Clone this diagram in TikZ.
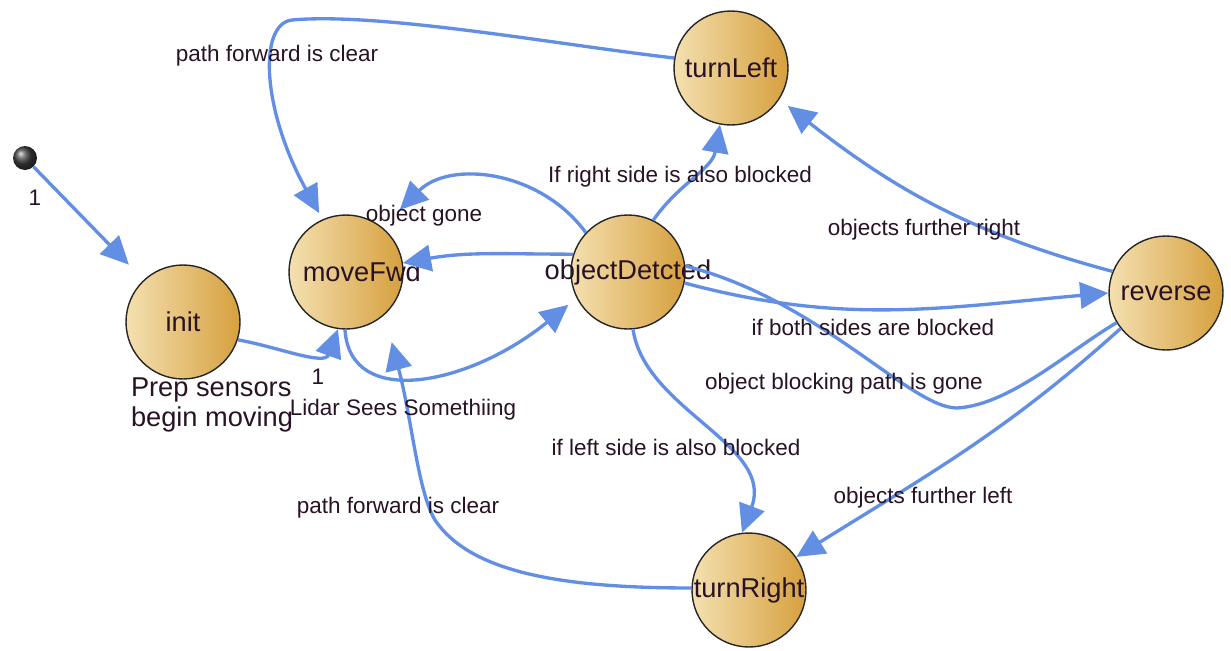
\documentclass[tikz,border=0pt]{standalone}
\usepackage{fontspec}
\setmainfont{Liberation Sans}
\usepackage{tikz}
\usetikzlibrary{arrows.meta,calc}

\definecolor{edgeblue}{RGB}{98,143,228}
\definecolor{stateLight}{RGB}{244,224,176}
\definecolor{stateDark}{RGB}{214,160,62}
\definecolor{labelink}{RGB}{40,18,36}
\newcommand{\stname}[1]{\makebox[0pt]{#1}}

\begin{document}
\begin{tikzpicture}[x=0.02cm,y=-0.02cm,
  state/.style={circle,draw=black!85,line width=0.8pt,minimum size=2.28cm,inner sep=0pt,
    left color=stateLight,right color=stateDark,text=labelink,font=\fontsize{15.5}{18}\selectfont},
  trans/.style={draw=edgeblue,line width=1.9pt,-{Triangle[length=16pt,width=15pt]}},
  lbl/.style={font=\fontsize{12.8}{15}\selectfont,text=labelink,inner sep=0pt}]
  \useasboundingbox (0,0) rectangle (1231,650);

  % states
  \node[circle,ball color=black!75,minimum size=0.48cm,inner sep=0pt] (start) at (25,158) {};
  \node[state] (init) at (183,322) {\stname{init}};
  \node[state] (moveFwd) at (346,272) {\stname{\hspace{18pt}moveFwd}};
  \node[state] (objD) at (628,272) {\stname{objectDetcted}};
  \node[state] (turnLeft) at (731,68) {\stname{turnLeft}};
  \node[state] (reverse) at (1166,293) {\stname{reverse}};
  \node[state] (turnRight) at (749,590) {\stname{turnRight}};

  % transitions
  \draw[trans,shorten >=12pt] (start) -- (init.133);
  \draw[trans] (init.-18) to[out=-10,in=-110] (moveFwd.-98);
  \draw[trans,shorten >=6pt] (moveFwd.-91) .. controls (350,410) and (470,385) .. (objD.-153);
  \draw[trans] (objD.162) to[out=180,in=10] (moveFwd.9);
  \draw[trans,shorten >=14pt] (objD.137) .. controls (540,170) and (450,160) .. (moveFwd.51);
  \draw[trans] (objD.64) to[out=55,in=-100] (turnLeft.-101);
  \draw[trans,shorten >=4pt] (turnLeft.170) .. controls (560,45) and (380,12) .. (292,20)
    .. controls (258,24) and (262,110) .. (moveFwd.114);
  \draw[trans,shorten >=6pt] (reverse.158) to[out=165,in=-38] (turnLeft.-33);
  \draw[trans] (objD.-11) to[out=-15,in=185] (reverse.180);
  \draw[trans,-] (reverse.-149) .. controls (1070,350) and (1010,405) .. (957,408)
    .. controls (910,408) and (820,300) .. (objD.6);
  \draw[trans] (objD.-85) .. controls (645,410) and (775,445) .. (turnRight.97);
  \draw[trans] (reverse.-142) to[out=-138,in=32] (turnRight.35);
  \draw[trans,shorten >=16pt] (turnRight.178) .. controls (560,588) and (470,572) .. (435,520)
    .. controls (418,492) and (412,420) .. (moveFwd.-48);

  % labels
  \node[lbl] (startNum) at (35,198) {1};
  \node[lbl,align=left,font=\fontsize{15.5}{17}\selectfont] (initNote) at (212,405) {Prep sensors\\begin moving};
  \node[lbl] (initNum) at (318,377) {1};
  \node[lbl] (lidar) at (403,410) {Lidar Sees Somethiing};
  \node[lbl] (gone) at (424,216) {object gone};
  \node[lbl] (rightBlk) at (680,177) {If right side is also blocked};
  \node[lbl] (clearTop) at (277,56) {path forward is clear};
  \node[lbl] (furtherR) at (924,230) {objects further right};
  \node[lbl] (bothBlk) at (873,327) {if both sides are blocked};
  \node[lbl] (pathGone) at (844,384) {object blocking path is gone};
  \node[lbl] (leftBlk) at (676,447) {if left side is also blocked};
  \node[lbl] (furtherL) at (923,498) {objects further left};
  \node[lbl] (clearBot) at (398,508) {path forward is clear};
\end{tikzpicture}
\end{document}
